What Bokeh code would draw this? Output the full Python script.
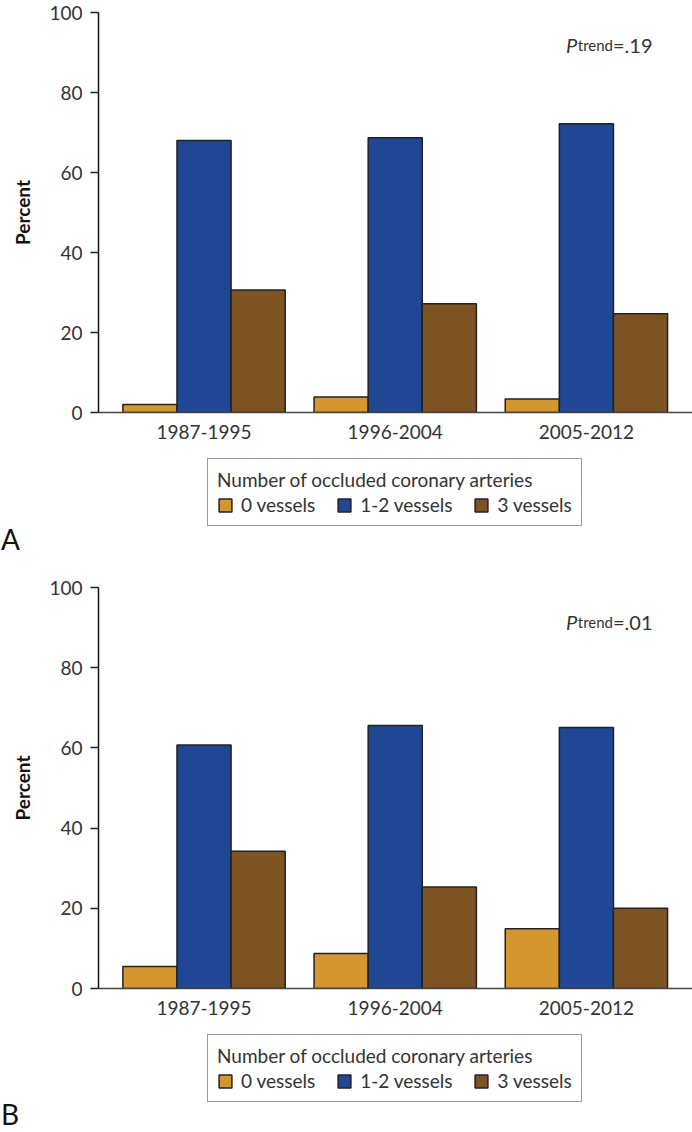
from bokeh.plotting import figure
from bokeh.models import ColumnDataSource, Range1d, FixedTicker, Legend, LegendItem, Label, Div
from bokeh.layouts import column
from bokeh.embed import file_html
from bokeh.resources import INLINE

periods = ["1987-1995", "1996-2004", "2005-2012"]
series_names = ["0 vessels", "1-2 vessels", "3 vessels"]
colors = ["#D6962F", "#1F4795", "#7E5324"]

a_zero = [2.0, 3.9, 3.4]
a_one_two = [68.0, 68.7, 72.2]
a_three = [30.6, 27.2, 24.7]

b_zero = [5.5, 8.7, 14.9]
b_one_two = [60.7, 65.6, 65.1]
b_three = [34.2, 25.3, 20.0]

p_values = ["=.19", "=.01"]
panel_letters = ["A", "B"]
y_ticks = [0, 20, 40, 60, 80, 100]
legend_title = "Number of occluded coronary arteries"
y_label = "Percent"

FONT = "Lato"
BAR_W = 0.283
OFFSETS = [-BAR_W, 0.0, BAR_W]
W = 692
LEFT = 98


def make_chart(values, pval, height, top_border, bottom_border, p_base):
    p = figure(width=W, height=height, output_backend="svg", toolbar_location=None,
               x_range=Range1d(-0.552, 2.555), y_range=Range1d(0, 100),
               min_border_left=LEFT, min_border_right=0,
               min_border_top=top_border, min_border_bottom=bottom_border)
    p.outline_line_color = None
    p.xgrid.visible = False
    p.ygrid.visible = False

    for name, vals, col, off in zip(series_names, values, colors, OFFSETS):
        src = ColumnDataSource(dict(x=[i + off for i in range(len(periods))], top=vals))
        p.vbar(x="x", top="top", width=BAR_W, bottom=0, source=src,
               fill_color=col, line_color="#222222", line_width=1.5)

    ya = p.yaxis[0]
    ya.ticker = FixedTicker(ticks=y_ticks)
    ya.minor_tick_line_color = None
    ya.major_tick_out = 8
    ya.major_tick_in = 0
    ya.major_tick_line_color = "#222222"
    ya.major_tick_line_width = 1.5
    ya.axis_line_color = "#111111"
    ya.axis_line_width = 1.5
    ya.major_label_text_font = FONT
    ya.major_label_text_font_size = "19px"
    ya.major_label_text_color = "#333333"
    ya.major_label_standoff = 8
    ya.axis_label = y_label
    ya.axis_label_text_font = FONT
    ya.axis_label_text_font_size = "19px"
    ya.axis_label_text_font_style = "bold"
    ya.axis_label_text_color = "#111111"
    ya.axis_label_standoff = 12

    xa = p.xaxis[0]
    xa.ticker = FixedTicker(ticks=list(range(len(periods))))
    xa.major_label_overrides = {i: lab for i, lab in enumerate(periods)}
    xa.minor_tick_line_color = None
    xa.major_tick_line_color = None
    xa.major_tick_out = 0
    xa.major_tick_in = 0
    xa.axis_line_color = "#444444"
    xa.axis_line_width = 1.5
    xa.major_label_text_font = FONT
    xa.major_label_text_font_size = "19px"
    xa.major_label_text_color = "#333333"
    xa.major_label_standoff = 12

    p.add_layout(Label(x=1.893, y=p_base, text="P", text_font=FONT, text_font_size="20px",
                       text_font_style="italic", text_color="#333333",
                       text_baseline="alphabetic", text_align="left"))
    p.add_layout(Label(x=1.955, y=p_base, text="trend", text_font=FONT, text_font_size="15px",
                       text_color="#333333", text_baseline="alphabetic", text_align="left"))
    p.add_layout(Label(x=2.139, y=p_base, text=pval, text_font=FONT, text_font_size="20px",
                       text_color="#333333", text_baseline="alphabetic", text_align="left"))
    return p


def make_legend_fig(values, height):
    p = figure(width=W, height=height, output_backend="svg", toolbar_location=None,
               x_range=Range1d(0, 1), y_range=Range1d(0, 1),
               x_axis_location=None, y_axis_location=None,
               min_border_left=LEFT, min_border_right=0,
               min_border_top=0, min_border_bottom=0)
    p.outline_line_color = None
    p.xgrid.visible = False
    p.ygrid.visible = False

    items = []
    for name, vals, col in zip(series_names, values, colors):
        src = ColumnDataSource(dict(x=list(range(len(periods))), top=vals))
        r = p.vbar(x="x", top="top", width=BAR_W, bottom=0, source=src, fill_color=col,
                   line_color="#222222", line_width=1.5)
        r.visible = False
        items.append(LegendItem(label=name, renderers=[r]))

    legend = Legend(items=items, orientation="horizontal", location=(109, 1),
                    title=legend_title)
    legend.title_text_font = FONT
    legend.title_text_font_size = "19px"
    legend.title_text_font_style = "normal"
    legend.title_text_color = "#333333"
    legend.title_standoff = 2
    legend.label_text_font = FONT
    legend.label_text_font_size = "19px"
    legend.label_text_color = "#333333"
    legend.glyph_width = 16
    legend.glyph_height = 16
    legend.label_standoff = 8
    legend.spacing = 21
    legend.padding = 9
    legend.margin = 0
    legend.border_line_color = "#333333"
    legend.border_line_width = 1.5
    legend.background_fill_alpha = 0
    p.add_layout(legend, "center")
    return p


def make_letter(letter, height, shift):
    html = ('<div style="font-family:Lato;font-size:28px;line-height:28px;'
            'margin-top:%dpx;padding-left:1px;color:#111111;">%s</div>' % (shift, letter))
    return Div(text=html, width=W, height=height, margin=0)


pa = make_chart([a_zero, a_one_two, a_three], p_values[0],
                height=450, top_border=12, bottom_border=38, p_base=92.0)
la = make_legend_fig([a_zero, a_one_two, a_three], height=77)
da = make_letter(panel_letters[0], 33, -2)
pb = make_chart([b_zero, b_one_two, b_three], p_values[1],
                height=466, top_border=27, bottom_border=38, p_base=91.5)
lb = make_legend_fig([b_zero, b_one_two, b_three], height=77)
db = make_letter(panel_letters[1], 29, -3)

layout = column(pa, la, da, pb, lb, db, spacing=0)
open("out.html", "w").write(file_html(layout, INLINE))
